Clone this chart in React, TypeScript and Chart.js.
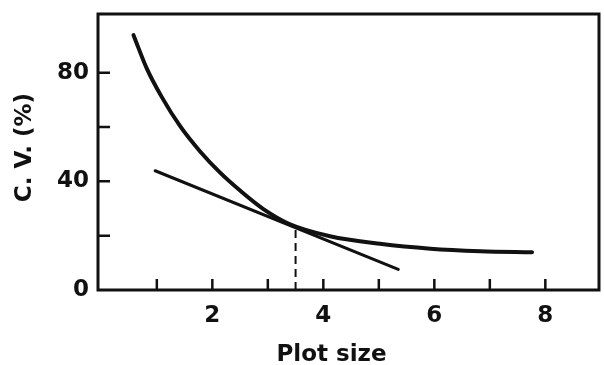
import React, { useEffect, useRef } from 'react';
import { Chart, registerables } from 'chart.js';

Chart.register(...registerables);

// Main C.V. curve (plot size vs coefficient of variation)
const CURVE_X = [0.58, 0.82, 1.09, 1.42, 1.78, 2.14, 2.5, 2.92, 3.4, 4.12, 5.02, 5.93, 6.83, 7.76];
const CURVE_Y = [93.8, 81.5, 71.0, 60.3, 51.0, 43.2, 36.6, 29.8, 24.2, 19.8, 17.0, 15.2, 14.3, 13.9];
// Tangent line
const TANGENT_X = [0.97, 5.35];
const TANGENT_Y = [43.9, 7.6];
// Dashed drop line at the optimum plot size
const OPTIMUM_X = [3.5, 3.5];
const OPTIMUM_Y = [0, 23.2];

const X_TICKS = [1, 2, 3, 4, 5, 6, 7, 8];
const X_LABELS = [2, 4, 6, 8];
const Y_TICKS = [0, 20, 40, 60, 80];
const Y_LABELS = [0, 40, 80];
const X_TITLE = 'Plot size';
const Y_TITLE = 'C. V. (%)';

const INK = '#111111';
const FONT_FAMILY = '"DejaVu Sans", "Liberation Sans", sans-serif';
const FONT_SIZE = 23;

const toPoints = (xs: number[], ys: number[]) => xs.map((x, i) => ({ x, y: ys[i] }));

const framePlugin = {
  id: 'framePlugin',
  afterDatasetsDraw(chart: any) {
    const { ctx, chartArea, scales } = chart;
    const { left, right, top, bottom } = chartArea;
    ctx.save();
    ctx.strokeStyle = INK;
    ctx.lineWidth = 3;
    ctx.lineJoin = 'miter';
    ctx.strokeRect(left, top, right - left, bottom - top);

    ctx.lineWidth = 2.5;
    ctx.beginPath();
    X_TICKS.forEach((v) => {
      const px = scales.x.getPixelForValue(v);
      ctx.moveTo(px, bottom);
      ctx.lineTo(px, bottom - 11);
    });
    Y_TICKS.filter((v) => v !== 0).forEach((v) => {
      const py = scales.y.getPixelForValue(v);
      ctx.moveTo(left, py);
      ctx.lineTo(left + 12, py);
    });
    ctx.stroke();
    ctx.restore();
  },
  afterDraw(chart: any) {
    const { ctx } = chart;
    ctx.save();
    ctx.fillStyle = INK;
    ctx.font = `bold ${FONT_SIZE}px ${FONT_FAMILY}`;
    ctx.textAlign = 'center';
    ctx.textBaseline = 'alphabetic';
    ctx.fillText(X_TITLE, 331.5, 361);
    ctx.translate(30.5, 147.5);
    ctx.rotate(-Math.PI / 2);
    ctx.fillText(Y_TITLE, 0, 0);
    ctx.restore();
  },
};

export default function App() {
  const canvasRef = useRef<HTMLCanvasElement | null>(null);

  useEffect(() => {
    if (!canvasRef.current) return;
    const chart = new Chart(canvasRef.current, {
      type: 'line',
      data: {
        datasets: [
          {
            data: toPoints(CURVE_X, CURVE_Y),
            borderColor: INK,
            borderWidth: 4,
            pointRadius: 0,
            cubicInterpolationMode: 'monotone',
            borderCapStyle: 'round',
            fill: false,
          },
          {
            data: toPoints(TANGENT_X, TANGENT_Y),
            borderColor: INK,
            borderWidth: 3,
            pointRadius: 0,
            borderCapStyle: 'round',
            fill: false,
          },
          {
            data: toPoints(OPTIMUM_X, OPTIMUM_Y),
            borderColor: INK,
            borderWidth: 2,
            borderDash: [8, 5],
            pointRadius: 0,
            fill: false,
          },
        ],
      },
      options: {
        animation: false,
        responsive: false,
        maintainAspectRatio: false,
        layout: { padding: { top: 14, right: 5, left: 0, bottom: 0 } },
        plugins: { legend: { display: false }, tooltip: { enabled: false } },
        scales: {
          x: {
            type: 'linear',
            min: -0.06,
            max: 8.967,
            afterFit: (s: any) => {
              s.height = 75;
              s.paddingLeft = 0;
              s.paddingRight = 0;
            },
            afterBuildTicks: (s: any) => { s.ticks = X_TICKS.map((value) => ({ value })); },
            grid: { display: false, drawTicks: false },
            border: { display: false },
            ticks: {
              autoSkip: false,
              maxRotation: 0,
              padding: 12,
              color: INK,
              font: { family: FONT_FAMILY, weight: 'bold', size: FONT_SIZE },
              callback: (v: any) => (X_LABELS.includes(Number(v)) ? String(v) : ''),
            },
          },
          y: {
            type: 'linear',
            min: 0,
            max: 101.6,
            afterFit: (s: any) => {
              s.width = 98;
              s.paddingTop = 0;
              s.paddingBottom = 0;
            },
            afterBuildTicks: (s: any) => { s.ticks = Y_TICKS.map((value) => ({ value })); },
            grid: { display: false, drawTicks: false },
            border: { display: false },
            ticks: {
              autoSkip: false,
              padding: 9,
              color: INK,
              font: { family: FONT_FAMILY, weight: 'bold', size: FONT_SIZE },
              callback: (v: any) => (Y_LABELS.includes(Number(v)) ? String(v) : ''),
            },
          },
        },
      },
      plugins: [framePlugin],
    });
    return () => chart.destroy();
  }, []);

  return (
    <div style={{ position: 'absolute', left: 0, top: 0, width: 604, height: 365, background: '#fff' }}>
      <canvas ref={canvasRef} width={604} height={365} />
    </div>
  );
}
